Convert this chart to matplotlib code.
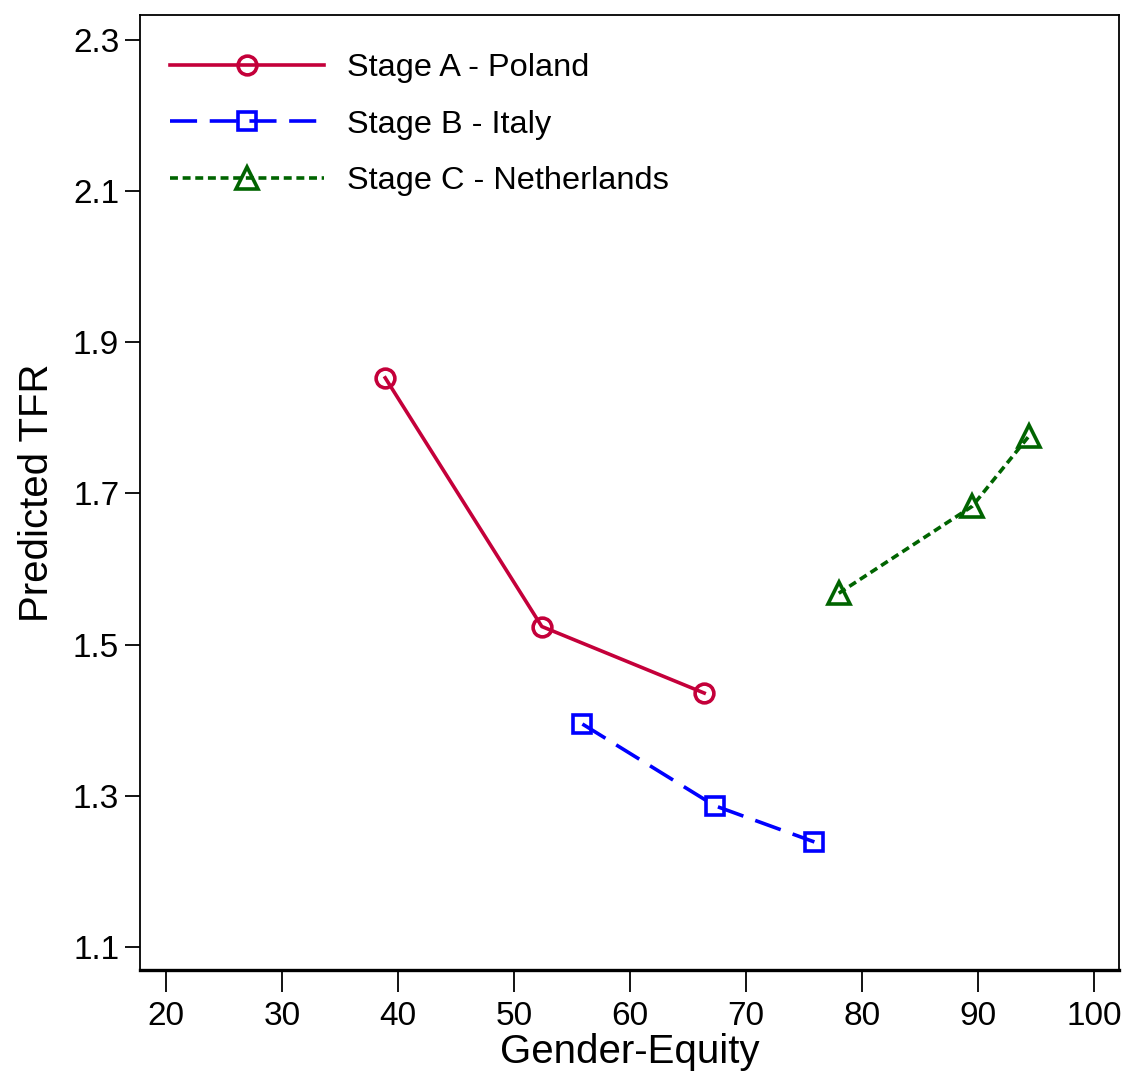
import matplotlib
matplotlib.use("Agg")
import matplotlib.pyplot as plt

plt.rcParams['font.family'] = ['Liberation Sans', 'DejaVu Sans']

poland_x = [38.9, 52.4, 66.4]
poland_y = [1.853, 1.524, 1.436]
italy_x = [55.9, 67.3, 75.9]
italy_y = [1.395, 1.287, 1.239]
neth_x = [78.0, 89.5, 94.4]
neth_y = [1.568, 1.683, 1.776]

labels = ["Stage A - Poland", "Stage B - Italy", "Stage C - Netherlands"]
xticks = [20, 30, 40, 50, 60, 70, 80, 90, 100]
yticks = [1.1, 1.3, 1.5, 1.7, 1.9, 2.1, 2.3]

fig = plt.figure(figsize=(11.27, 10.71), dpi=100)
ax = fig.add_axes([140/1127, 101/1071, 979/1127, 955/1071])

lw = 2.6
ax.plot(poland_x, poland_y, color='#C4003A', lw=lw, marker='o', ms=13.5,
        mfc='none', mew=2.6, label=labels[0])
ax.plot(italy_x, italy_y, color='#0000FF', lw=lw, ls=(0, (7.5, 3.5)), marker='s', ms=13.5,
        mfc='none', mew=2.6, label=labels[1])
ax.plot(neth_x, neth_y, color='#006400', lw=lw, ls=(0, (2.2, 1.3)), marker='^', ms=15.5,
        mfc='none', mew=2.6, label=labels[2])

ax.set_xlim(17.76, 102.16)
ax.set_ylim(1.0696, 2.333)
ax.set_xticks(xticks)
ax.set_xticklabels([str(v) for v in xticks])
ax.set_yticks(yticks)
ax.set_yticklabels([f"{v:.1f}" for v in yticks])
ax.tick_params(axis='x', length=16, width=1.3, labelsize=24, pad=6)
ax.tick_params(axis='y', length=11, width=1.3, labelsize=24, pad=4)

for s in ['left', 'right', 'top']:
    ax.spines[s].set_linewidth(1.3)
ax.spines['bottom'].set_linewidth(2.4)

ax.set_xlabel("Gender-Equity", fontsize=29, labelpad=1)
ax.set_ylabel("Predicted TFR", fontsize=29, labelpad=12)

leg = ax.legend(loc='upper left', bbox_to_anchor=(30/979, 1 - 38/955), borderaxespad=0,
                borderpad=0, frameon=False, fontsize=23.4, handlelength=4.75,
                handletextpad=0.7, labelspacing=0.82)

fig.savefig("out.png", dpi=100)
